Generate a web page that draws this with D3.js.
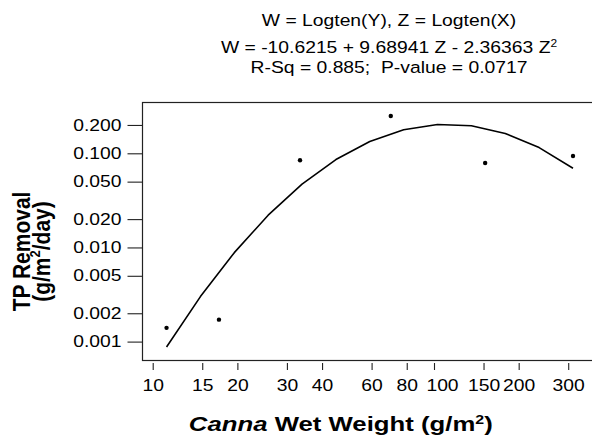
<!DOCTYPE html>
<html>
<head>
<meta charset="utf-8">
<script src="https://cdn.jsdelivr.net/npm/d3@7"></script>
<style>
  html, body { margin: 0; padding: 0; background: #fff; }
  svg { display: block; font-family: "Liberation Sans", Arial, sans-serif; }
  text { white-space: pre; }
</style>
</head>
<body>
<svg id="chart" width="592" height="442"></svg>
<script>
// Canna wet weight (g/m^2) and TP removal (g/m^2/day)
const cannaWeight = [11.2, 17.2, 33.4, 70.2, 152, 312];
const tpRemoval   = [0.00140, 0.00171, 0.0843, 0.249, 0.0789, 0.0936];

// Quadratic fit on log10 scales: W = b0 + b1 Z + b2 Z^2
const fitCoef = [-10.6215, 9.68941, -2.36363];
const rSq = 0.885;
const pValue = 0.0717;

const xTickValues = [10, 15, 20, 30, 40, 60, 80, 100, 150, 200, 300];
const yTickValues = [0.001, 0.002, 0.005, 0.010, 0.020, 0.050, 0.100, 0.200];

const svg = d3.select("#chart");

const frame = { left: 142.5, top: 102.5, bottom: 360.5, right: 600 };

const x = d3.scaleLog().domain([10, 100]).range([152.7, 434]);
const y = d3.scaleLog().domain([0.001, 0.1]).range([341.6, 153.3]);

const TICK_FONT = 16.8, TEXT_K = 1.15;

// plot frame (right edge runs off the canvas)
svg.append("rect")
  .attr("x", frame.left).attr("y", frame.top)
  .attr("width", frame.right - frame.left)
  .attr("height", frame.bottom - frame.top)
  .attr("fill", "none").attr("stroke", "#222").attr("stroke-width", 1.2);

// left axis
const yAxis = svg.append("g")
  .attr("transform", `translate(${frame.left},0)`)
  .call(d3.axisLeft(y).tickValues(yTickValues).tickFormat(d3.format(".3f"))
        .tickSize(15).tickPadding(6));
yAxis.select(".domain").remove();
yAxis.selectAll(".tick line").attr("stroke", "#222").attr("stroke-width", 1.1);
yAxis.selectAll(".tick text")
  .attr("font-family", "Liberation Sans, Arial, sans-serif")
  .attr("font-size", TICK_FONT).attr("fill", "#000")
  .attr("x", -21 / TEXT_K).attr("dy", "0.3em")
  .attr("transform", `scale(${TEXT_K},1)`);

// bottom axis (ticks sit slightly below the frame)
const xAxis = svg.append("g")
  .attr("transform", `translate(0,${frame.bottom + 2.5})`)
  .call(d3.axisBottom(x).tickValues(xTickValues).tickFormat(d3.format("d"))
        .tickSize(7).tickPadding(6));
xAxis.select(".domain").remove();
xAxis.selectAll(".tick line").attr("stroke", "#222").attr("stroke-width", 1.1);
xAxis.selectAll(".tick text")
  .attr("font-family", "Liberation Sans, Arial, sans-serif")
  .attr("font-size", TICK_FONT).attr("fill", "#000")
  .attr("y", 28).attr("dy", 0)
  // the 100 label is nudged right so it clears its neighbour
  .attr("x", d => d === 100 ? 8 / TEXT_K : 0)
  .attr("transform", `scale(${TEXT_K},1)`);

// fitted curve across the observed range
const zMin = Math.log10(d3.min(cannaWeight));
const zMax = Math.log10(d3.max(cannaWeight));
const nSeg = 12;
const fitPts = d3.range(nSeg + 1).map(i => {
  const z = zMin + (zMax - zMin) * i / nSeg;
  const w = fitCoef[0] + fitCoef[1] * z + fitCoef[2] * z * z;
  return [Math.pow(10, z), Math.pow(10, w)];
});
svg.append("path")
  .datum(fitPts)
  .attr("fill", "none").attr("stroke", "#000").attr("stroke-width", 1.6)
  .attr("stroke-linejoin", "round")
  .attr("d", d3.line().x(d => x(d[0])).y(d => y(d[1])));

// observations
svg.append("g").selectAll("circle")
  .data(cannaWeight.map((c, i) => [c, tpRemoval[i]]))
  .join("circle")
  .attr("cx", d => x(d[0])).attr("cy", d => y(d[1]))
  .attr("r", 2.2).attr("fill", "#000");

// helper: horizontally widened text anchored at (px, py)
function wideText(px, py, k, size, anchor, weight) {
  return svg.append("g")
    .attr("transform", `translate(${px},${py}) scale(${k},1)`)
    .append("text")
    .attr("text-anchor", anchor)
    .attr("font-size", size)
    .attr("font-weight", weight || "normal")
    .attr("fill", "#000");
}

// header lines
const cx = 389;
wideText(cx, 25.5, TEXT_K, TICK_FONT, "middle").text("W = Logten(Y), Z = Logten(X)");

const eq = wideText(cx, 53, TEXT_K, TICK_FONT, "middle");
eq.append("tspan").text(
  `W = ${fitCoef[0]} + ${fitCoef[1]} Z - ${-fitCoef[2]} Z`);
eq.append("tspan").attr("font-size", "0.62em").attr("dy", "-0.62em").text("2");

wideText(cx, 72.5, TEXT_K, TICK_FONT, "middle")
  .text(`R-Sq = ${rSq};  P-value = ${pValue}`);

// y axis title (two rotated lines)
function yTitle(px, size) {
  return svg.append("g")
    .attr("transform", `translate(${px},251.5) scale(1.12,1) rotate(-90)`)
    .append("text")
    .attr("text-anchor", "middle")
    .attr("font-size", size).attr("font-weight", "bold").attr("fill", "#000");
}
yTitle(30, 21).text("TP Removal");
const yt2 = yTitle(49.5, 21);
yt2.append("tspan").text("(g/m");
yt2.append("tspan").attr("font-size", "0.62em").attr("dy", "-0.62em").text("2");
yt2.append("tspan").attr("dy", "0.385em").text("/day)");

// x axis title
const xt = wideText(340.8, 431, 1.32, 19.5, "middle", "bold");
xt.append("tspan").attr("font-style", "italic").text("Canna");
xt.append("tspan").text(" Wet Weight (g/m");
xt.append("tspan").attr("font-size", "0.62em").attr("dy", "-0.62em").text("2");
xt.append("tspan").attr("dy", "0.385em").text(")");
</script>
</body>
</html>
